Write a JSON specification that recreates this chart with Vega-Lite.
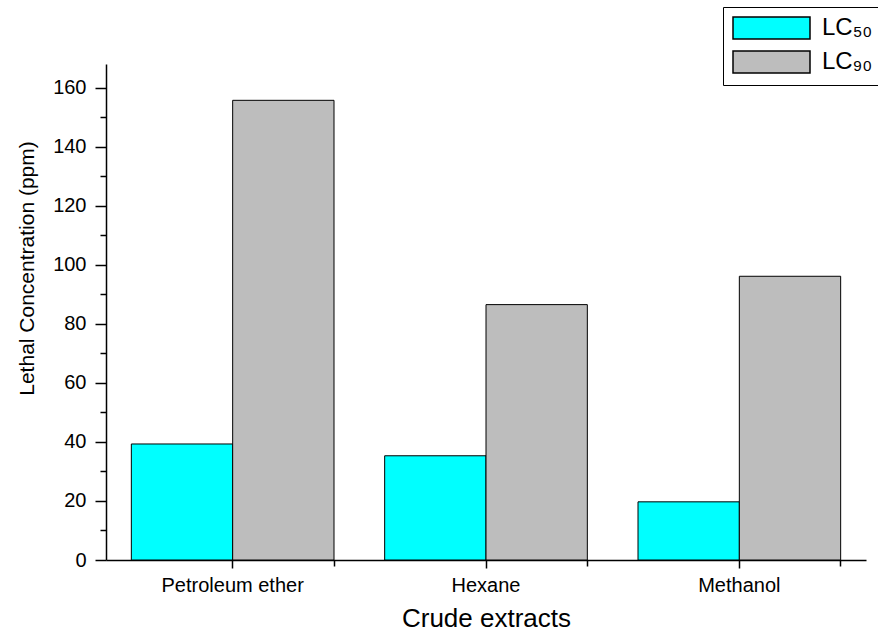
{
  "$schema": "https://vega.github.io/schema/vega-lite/v6.json",
  "width": 760,
  "height": 496,
  "autosize": "none",
  "padding": {"left": 106, "top": 64, "right": 12, "bottom": 74},
  "background": "white",
  "config": {
    "font": "Liberation Sans",
    "view": {"stroke": null},
    "axis": {
      "grid": false,
      "domainColor": "black",
      "tickColor": "black",
      "labelColor": "black",
      "titleColor": "black",
      "titleFontWeight": "normal",
      "domainWidth": 1.5,
      "tickWidth": 1.5
    },
    "legend": {
      "strokeColor": "black",
      "fillColor": "white",
      "padding": 9,
      "symbolType": "M-1,-1H6V1H-1Z",
      "symbolSize": 484,
      "symbolStrokeColor": "black",
      "symbolStrokeWidth": 1.5,
      "symbolOpacity": 1,
      "labelFontSize": 24,
      "labelColor": "black",
      "labelOffset": 66,
      "rowPadding": 6
    }
  },
  "data": {
    "values": [
      {"extract": "Petroleum ether", "series": "LC₅₀", "value": 39.3},
      {"extract": "Petroleum ether", "series": "LC₉₀", "value": 155.7},
      {"extract": "Hexane", "series": "LC₅₀", "value": 35.3},
      {"extract": "Hexane", "series": "LC₉₀", "value": 86.5},
      {"extract": "Methanol", "series": "LC₅₀", "value": 19.7},
      {"extract": "Methanol", "series": "LC₉₀", "value": 96.1}
    ]
  },
  "layer": [
    {
      "mark": {"type": "bar", "stroke": "black", "strokeWidth": 1},
      "encoding": {
        "x": {
          "field": "extract",
          "type": "nominal",
          "sort": ["Petroleum ether", "Hexane", "Methanol"],
          "scale": {"paddingInner": 0.2, "paddingOuter": 0.1},
          "axis": {
            "title": "Crude extracts",
            "titleFontSize": 26,
            "titlePadding": 10,
            "labelFontSize": 20,
            "labelAngle": 0,
            "labelPadding": 7,
            "tickSize": 8,
            "orient": "bottom"
          }
        },
        "xOffset": {
          "field": "series",
          "type": "nominal",
          "sort": ["LC₅₀", "LC₉₀"],
          "scale": {"paddingInner": 0, "paddingOuter": 0}
        },
        "y": {
          "field": "value",
          "type": "quantitative",
          "scale": {"domain": [0, 168], "nice": false},
          "axis": {
            "values": [0, 10, 20, 30, 40, 50, 60, 70, 80, 90, 100, 110, 120, 130, 140, 150, 160],
            "labelExpr": "datum.value % 20 === 0 ? datum.label : ''",
            "tickSize": {"condition": {"test": "datum.value % 20 === 0", "value": 11}, "value": 6},
            "labelFontSize": 20,
            "labelPadding": 9,
            "title": "Lethal Concentration (ppm)",
            "titleFontSize": 21,
            "titleX": -73,
            "titleY": 204,
            "titleBaseline": "alphabetic"
          }
        },
        "fill": {
          "field": "series",
          "type": "nominal",
          "scale": {"domain": ["LC₅₀", "LC₉₀"], "range": ["#00FFFF", "#BDBDBD"]},
          "legend": {
            "title": null,
            "orient": "none",
            "legendX": 617,
            "legendY": -57
          }
        }
      }
    },
    {
      "mark": {"type": "bar", "opacity": 0},
      "encoding": {
        "x": {
          "field": "extract",
          "type": "nominal",
          "sort": ["Petroleum ether", "Hexane", "Methanol"],
          "axis": {
            "orient": "bottom",
            "bandPosition": 1,
            "labels": false,
            "domain": false,
            "tickSize": 6,
            "title": null
          }
        }
      }
    }
  ],
  "resolve": {"axis": {"x": "independent"}}
}
